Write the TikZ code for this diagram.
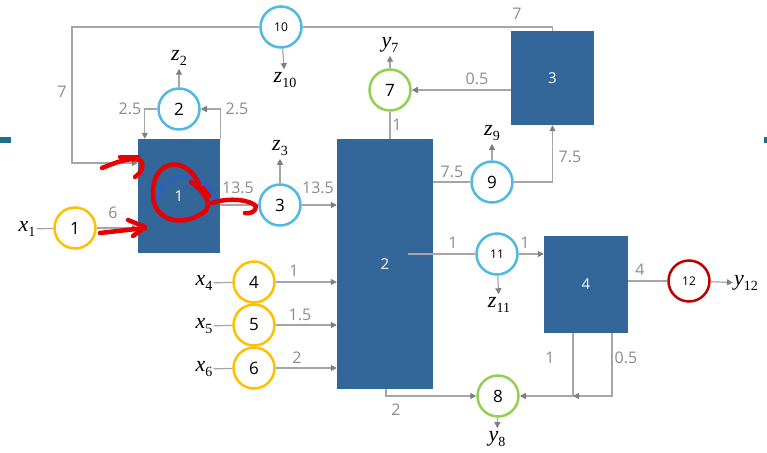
\documentclass[tikz,border=0pt]{standalone}
\usepackage{fontspec}
\setmainfont{Open Sans}
\newfontfamily\mathlabfont{Liberation Serif}
\usetikzlibrary{arrows.meta,calc}
\definecolor{boxblue}{HTML}{336699}
\definecolor{cblue}{HTML}{4FB9E3}
\definecolor{cyellow}{HTML}{FFC000}
\definecolor{cgreen}{HTML}{92D050}
\definecolor{cred}{HTML}{C00000}
\definecolor{lgray}{HTML}{A6A6A6}
\definecolor{agray}{HTML}{7F7F7F}
\definecolor{tgray}{HTML}{8C8C8C}
\definecolor{slideteal}{HTML}{1F6E8C}
\definecolor{scrib}{HTML}{E60000}
\definecolor{loopblue}{HTML}{2E5FC2}
\newcommand{\mlabtext}[2]{{\mathlabfont\fontsize{22}{26}\selectfont\itshape #1}\raisebox{-5pt}{\mathlabfont\fontsize{14}{16}\selectfont #2}}
\begin{document}
\begin{tikzpicture}[x=1pt,y=-1pt,
  box/.style={fill=boxblue,draw=none,text=white,font=\fontsize{15}{18}\selectfont,inner sep=0},
  circ/.style={circle,draw=#1,line width=2.5pt,fill=white,minimum size=41pt,inner sep=0,font=\fontsize{17}{20}\selectfont},
  smallc/.style={font=\fontsize{12}{14}\selectfont},
  conn/.style={draw=lgray,line width=1.2pt},
  arr/.style={conn,-{Triangle[length=6pt,width=6pt,color=agray]}},
  lab/.style={text=tgray,font=\fontsize{16}{19}\selectfont,inner sep=0},
  mlab/.style={inner sep=1pt},
  scribble/.style={draw=scrib,line width=4.5pt,line cap=round,line join=round}]
\useasboundingbox (0,0) rectangle (767,452);
% slide artefacts
\fill[slideteal] (0,137) rectangle (11,143);
\fill[slideteal] (764,137) rectangle (767,143);
% boxes
\node[box,minimum width=82pt,minimum height=114pt] (b1) at (179,196) {1};
\node[box,minimum width=96pt,minimum height=250pt] (b2) at (385,264) {2};
\node[box,minimum width=83pt,minimum height=94pt] (b3) at (552.5,78) {3};
\node[box,minimum width=84pt,minimum height=97pt] (b4) at (586,284.5) {4};
% circles
\node[circ=cyellow] (c1) at (75,228) {1};
\node[circ=cblue] (c2) at (179,109) {2};
\node[circ=cblue] (c3) at (280,205) {3};
\node[circ=cyellow] (c4) at (254,282) {4};
\node[circ=cyellow] (c5) at (254,325) {5};
\node[circ=cyellow] (c6) at (254,368) {6};
\node[circ=cgreen] (c7) at (390,90) {7};
\node[circ=cgreen] (c8) at (498,396) {8};
\node[circ=cblue] (c9) at (492,182) {9};
\node[circ=cblue,smallc] (c10) at (281,27) {10};
\node[circ=cblue,smallc] (c11) at (497,254) {11};
\node[circ=cred,smallc] (c12) at (689,281) {12};
% stream labels
\node[mlab] (x1) at (27,229) {\mlabtext{x}{1}};
\node[mlab] (x4) at (204,283) {\mlabtext{x}{4}};
\node[mlab] (x5) at (204,326) {\mlabtext{x}{5}};
\node[mlab] (x6) at (204,369) {\mlabtext{x}{6}};
\node[mlab] (z2) at (179,58) {\mlabtext{z}{2}};
\node[mlab] (z3) at (280,148) {\mlabtext{z}{3}};
\node[mlab] (z10) at (285,80) {\mlabtext{z}{10}};
\node[mlab] (y7) at (390,45) {\mlabtext{y}{7}};
\node[mlab] (z9) at (492,133) {\mlabtext{z}{9}};
\node[mlab] (z11) at (499,305) {\mlabtext{z}{11}};
\node[mlab] (y8) at (497,439) {\mlabtext{y}{8}};
\node[mlab] (y12) at (746,283) {\mlabtext{y}{12}};
% input lines
\draw[conn] (x1) -- (c1);
\draw[conn] (x4) -- (c4);
\draw[conn] (x5) -- (c5);
\draw[conn] (x6) -- (c6);
% product arrows
\draw[arr,shorten >=2pt] (c2) -- (z2);
\draw[arr,shorten >=2pt] (c3) -- (z3);
\draw[arr,shorten >=2pt] (c10) -- (z10);
\draw[arr,shorten >=2pt] (c7) -- (y7);
\draw[arr,shorten >=2pt] (c9) -- (z9);
\draw[arr,shorten >=2pt] (c11) -- (z11);
\draw[arr,shorten >=2pt] (c8) -- (y8);
\draw[arr] (c12) -- (y12);
% connectors
\draw[arr] (c1) -- (b1.west |- c1);
\node[lab] at (113,213) {6};
\draw[arr] (c2.west) -| ($(b1.north west)+(7,0)$);
\node[lab] at (130,109) {2.5};
\draw[arr] (b1.north east) |- (c2.east);
\node[lab] at (237,109) {2.5};
\draw[conn] (b3.north) |- (c10.east);
\coordinate (fbL) at (72,163);
\draw[arr] (c10.west) -| (fbL) -- (b1.west |- fbL);
\node[lab] at (517,14) {7};
\node[lab] at (62,92) {7};
\draw[conn] (b1.east |- c3) -- (c3.west);
\node[lab] at (238,188) {13.5};
\draw[arr] (c3.east) -- (b2.west |- c3);
\node[lab] at (318,188) {13.5};
\draw[arr] (c4.east) -- (b2.west |- c4);
\node[lab] at (294,271) {1};
\draw[arr] (c5.east) -- (b2.west |- c5);
\node[lab] at (300,315) {1.5};
\draw[arr] (c6.east) -- (b2.west |- c6);
\node[lab] at (297,358) {2};
\draw[conn] (b2.north -| c7) -- (c7.south);
\node[lab] at (397,125) {1};
\draw[arr] (b3.west |- c7) -- (c7.east);
\node[lab] at (477,79) {0.5};
\draw[conn] (b2.east |- c9) -- (c9.west);
\node[lab] at (452,172) {7.5};
\draw[arr] (c9.east) -| (b3.south);
\node[lab] at (570,157) {7.5};
\draw[conn] ($(b2.east |- c11)+(-25,0)$) -- (c11.west);
\node[lab] at (453,243) {1};
\draw[arr] (c11.east) -- (b4.west |- c11);
\node[lab] at (525,243) {1};
\draw[conn] (b4.east |- c12) -- (c12.west);
\node[lab] at (640,270) {4};
\draw[arr] ($(b2.south)+(1,0)$) |- (c8.west);
\node[lab] at (396,410) {2};
\coordinate (mrg) at (573,396);
\draw[arr] ($(b4.south)+(-13,0)$) |- (c8.east);
\draw[arr] ($(b4.south)+(26,0)$) |- (mrg);
\node[lab] at (550,358) {1};
\node[lab] at (626,358) {0.5};
% hand-drawn marks
\draw[loopblue,line width=3pt,line cap=round] (157,210) .. controls (150,176) and (204,160) .. (214,198);
\draw[scribble] (102,168) .. controls (115,163) and (128,157) .. (140,160) .. controls (145,165) and (142,172) .. (135,177);
\draw[scribble] (120,157) -- (138,157);
\draw[scribble] (100,233) -- (145,228);
\draw[scribble] (128,220) -- (145,227) -- (133,236);
\draw[scribble] (199,185) .. controls (188,155) and (152,158) .. (153,194) .. controls (153,220) and (180,228) .. (203,213) .. controls (213,206) and (207,194) .. (191,182);
\draw[scribble] (203,188) -- (209,196);
\draw[scribble] (212,203) .. controls (230,197) and (250,200) .. (256,206) .. controls (256,212) and (250,214) .. (245,213);
\end{tikzpicture}
\end{document}
